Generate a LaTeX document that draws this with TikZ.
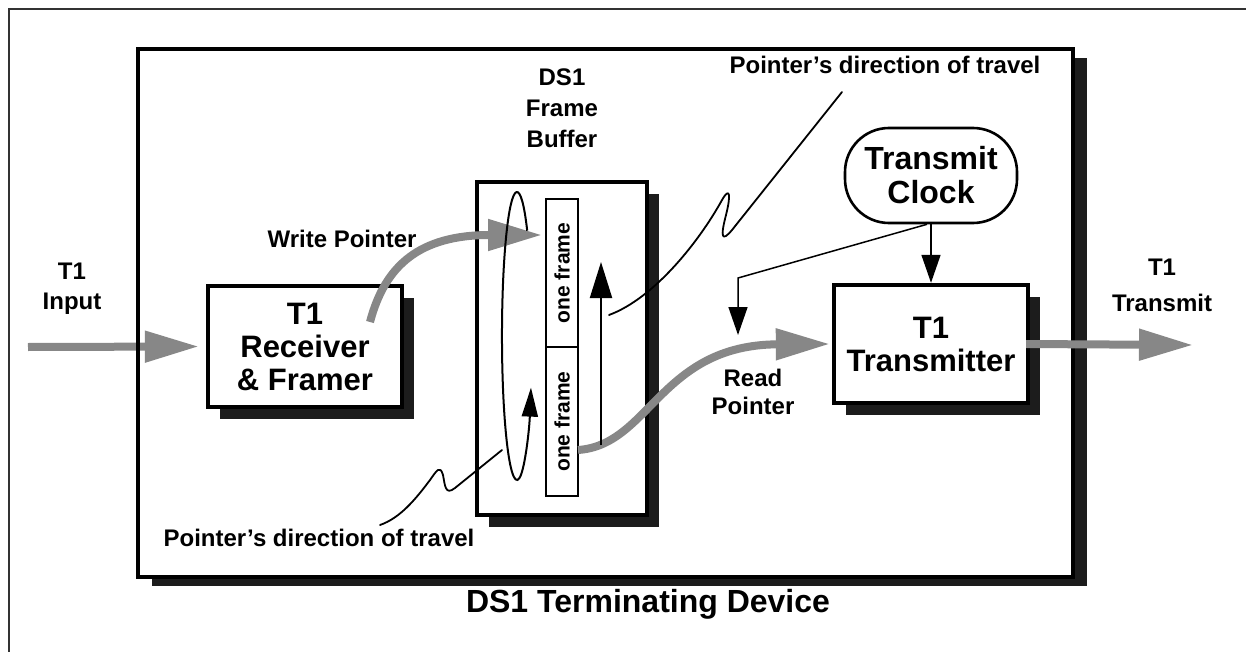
\documentclass[tikz,border=0pt]{standalone}
\usepackage{fontspec}
\setmainfont{Liberation Sans}
\usetikzlibrary{arrows.meta,shadows}
\definecolor{shadowc}{RGB}{28,28,28}
\definecolor{pgray}{RGB}{135,135,135}
\definecolor{framec}{RGB}{50,50,50}
\begin{document}
\begin{tikzpicture}[x=0.5pt,y=-0.5pt,
  lbl/.style={font=\bfseries\fontsize{12}{15}\selectfont, align=center, inner sep=0pt},
  boxtxt/.style={font=\bfseries\fontsize{15.5}{16.5}\selectfont, align=center},
  blk/.style={draw=black, line width=2.2pt, fill=white, inner sep=0pt,
    drop shadow={shadow xshift=6pt, shadow yshift=-6pt, fill=shadowc, opacity=1}},
  cell/.style={draw=black, line width=0.7pt, rotate=90, minimum height=16pt, inner sep=0pt,
    font=\bfseries\fontsize{10.5}{12}\selectfont},
  gr/.style={draw=pgray, line width=4pt, -{Triangle[length=27pt,width=15pt]}},
  thinarr/.style={draw=black, line width=0.75pt, -{Triangle[length=14pt,width=9.5pt]}},
  squig/.style={draw=black, line width=0.9pt, line cap=round, line join=round}]
\useasboundingbox (0,0) rectangle (1246,652);
% outer frame
\draw[framec, line width=1pt] (9,652) -- (9,9) -- (1246,9);
% device box
\node[draw=black, line width=1.7pt, fill=white, minimum width=467.5pt, minimum height=264pt,
  outer sep=0pt, inner sep=0pt,
  drop shadow={shadow xshift=7pt, shadow yshift=-4.5pt, fill=shadowc, opacity=1}] (dev) at (605.5,313) {};
% blocks
\node[blk, boxtxt, minimum width=97pt, minimum height=60.5pt] (rx) at (305,346.5) {T1\\Receiver\\\& Framer};
\node[blk, boxtxt, minimum width=97pt, minimum height=59pt] (tx) at (931,344) {T1\\Transmitter};
\node[blk, line width=2pt, minimum width=85pt, minimum height=166.5pt] (buf) at (562,348.5) {};
\node[cell, minimum width=74pt] (cellA) at (562,273) {one frame};
\node[cell, minimum width=74.5pt] (cellB) at (562,421.5) {one frame};
\node[draw=black, line width=1.3pt, rounded corners=22pt, fill=white, minimum width=86pt,
  minimum height=47.5pt, inner sep=0pt, align=center,
  font=\bfseries\fontsize{16}{17}\selectfont] (clk) at (931,175.5) {Transmit\\Clock};
% labels
\node[lbl] (inlbl) at (72,289) {T1\\Input};
\node[lbl, font=\bfseries\fontsize{12}{18}\selectfont] (outlbl) at (1162,285) {T1\\Transmit};
\node[lbl] (wlbl) at (342,239) {Write Pointer};
\node[lbl, font=\bfseries\fontsize{12}{15.5}\selectfont] (dslbl) at (562,108) {DS1\\Frame\\Buffer};
\node[lbl] (p1lbl) at (885,65) {Pointer’s direction of travel};
\node[lbl] (p2lbl) at (319,538) {Pointer’s direction of travel};
\node[lbl, font=\bfseries\fontsize{12}{14}\selectfont] (rdlbl) at (753,392) {Read\\Pointer};
\node[font=\bfseries\fontsize{16}{19}\selectfont, inner sep=0pt] (title) at (648,604) {DS1 Terminating Device};
% coordinates
\coordinate (in) at (28,347);
\coordinate (out) at (1193,345);
\coordinate (ws) at (370,322);
\coordinate (we) at (542,235);
\coordinate (rs) at (578,450);
\coordinate (rbend) at (738,278);
\coordinate (rp) at (738,335);
\coordinate (vs) at (601,445);
\coordinate (ve) at (601,262);
\coordinate (es) at (527.2,230.7);
\coordinate (s1) at (609,315);
\coordinate (s1e) at (842,92);
\coordinate (s2) at (502,450);
\coordinate (s2e) at (380,525);
% gray data arrows
\draw[gr] (in) -- ([xshift=-3.5pt]rx.west);
% device left border over the input arrow
\draw[black, line width=1.7pt] ([yshift=0.85pt]dev.north west) -- ([yshift=-0.85pt]dev.south west);
\draw[gr] ([xshift=-2pt]tx.east) -- (out);
\draw[gr] (ws) .. controls (385,265) and (420,235) .. (we);
\draw[gr] (rs) .. controls (650,445) and (660,345) .. ([xshift=-1pt]tx.west);
% pointer travel
\draw[line width=1pt, -{Triangle[length=14.5pt,width=8pt]}] (es) arc[start angle=-47, end angle=-339, x radius=15, y radius=144];
\draw[line width=1pt, -{Triangle[length=18pt,width=11pt]}] (vs) -- (ve);
% squiggles
\draw[squig] (s1) .. controls (655,298) and (700,240) .. (722,200)
  .. controls (730,186) and (731,195) .. (726,215)
  .. controls (720,238) and (722,242) .. (732,230) -- (s1e);
\draw[squig] (s2) -- (455,488) .. controls (445,496) and (445,485) .. (443,475)
  .. controls (440,465) and (437,470) .. (430,480)
  .. controls (415,500) and (400,518) .. (s2e);
% clock
\draw[thinarr] (clk.south) -- (tx.north);
\draw[thinarr] ([xshift=-2pt]clk.south) -- (rbend) -- (rp);
\end{tikzpicture}
\end{document}
